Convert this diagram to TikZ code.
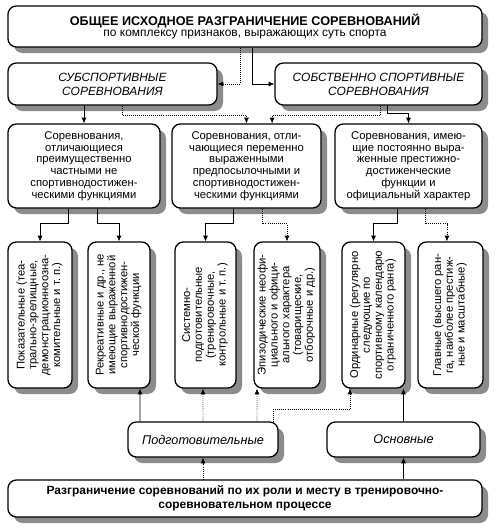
\documentclass[tikz,border=0pt]{standalone}
\usepackage{fontspec}
\setmainfont{Liberation Sans}
\usepackage{graphicx}
\usetikzlibrary{arrows.meta,positioning,shadows}

\tikzset{
  box/.style={draw, line width=0.9pt, rounded corners=6pt, fill=white, align=center, inner sep=2pt,
    drop shadow={shadow xshift=0.15cm, shadow yshift=-0.15cm, fill=black!45, opacity=1},
    font=\fontsize{8}{8.4}\selectfont},
  itbox/.style={box, font=\fontsize{8.5}{10}\selectfont\itshape},
  arr/.style={-{Latex[length=4pt,width=3.5pt]}, line width=0.45pt},
  dotarr/.style={arr, densely dotted}
}

\begin{document}
\begin{tikzpicture}[x=0.025cm, y=-0.025cm]
  \useasboundingbox (0,0) rectangle (500,530);

  % Top box
  \node[box, minimum width=11.85cm, minimum height=1.025cm] (top) at (245,26.5)
    {{\fontsize{9}{10}\selectfont\bfseries ОБЩЕЕ ИСХОДНОЕ РАЗГРАНИЧЕНИЕ СОРЕВНОВАНИЙ}\\
     {\fontsize{8.5}{10}\selectfont по комплексу признаков, выражающих суть спорта}};

  % Two kinds of competitions
  \node[itbox, minimum width=5.225cm, minimum height=1.05cm] (sub) at (112.5,84)
    {СУБСПОРТИВНЫЕ\\СОРЕВНОВАНИЯ};
  \node[itbox, minimum width=5.175cm, minimum height=1.05cm] (own) at (378.5,84)
    {СОБСТВЕННО СПОРТИВНЫЕ\\СОРЕВНОВАНИЯ};

  % Three groups
  \node[box, minimum width=3.8cm, minimum height=2.1cm] (grp1) at (84,166)
    {Соревнования,\\отличающиеся\\преимущественно\\частными не\\спортивнодостижен-\\ческими функциями};
  \node[box, minimum width=3.725cm, minimum height=2.1cm] (grp2) at (246.5,166)
    {Соревнования, отли-\\чающиеся переменно\\выраженными\\предпосылочными и\\спортивнодостижен-\\ческими функциями};
  \node[box, minimum width=3.675cm, minimum height=2.1cm] (grp3) at (408.5,166)
    {Соревнования, имею-\\щие постоянно выра-\\женные престижно-\\достиженческие\\функции и\\официальный характер};

  % Six kinds (vertical text)
  \foreach \n/\x/\w/\txt in {
    v1/40/1.6/{Показательные (теа-\\трально-зрелищные,\\демонстрационноозна-\\комительные и т.~п.)},
    v2/119/1.55/{Рекреативные и др., не\\имеющие выраженной\\спортивнодостижен-\\ческой функции},
    v3/205.5/1.525/{Системно-\\подготовительные\\(тренировочные,\\контрольные и т.~п.)},
    v4/287/1.65/{Эпизодические неофи-\\циального и офици-\\ального характера\\(товарищеские,\\отборочные и др.)},
    v5/373.5/1.575/{Ординарные (регулярно\\следующие по\\спортивному календарю\\ограниченного ранга)},
    v6/450.5/1.625/{Главные (высшего ран-\\га, наиболее престиж-\\ные и масштабные)}}
    \node[box, minimum width=\w cm, minimum height=3.65cm] (\n) at (\x,315)
      {\rotatebox{90}{\begin{tabular}{@{}c@{}}\txt\end{tabular}}};

  % Role in the training process
  \node[itbox, font=\fontsize{9}{10}\selectfont\itshape, minimum width=3.75cm, minimum height=0.875cm] (prep) at (203,439.5)
    {Подготовительные};
  \node[itbox, font=\fontsize{9}{10}\selectfont\itshape, minimum width=3.825cm, minimum height=0.875cm] (main) at (403.5,439.5)
    {Основные};
  \node[box, font=\fontsize{8.5}{10}\selectfont\bfseries, minimum width=11.85cm, minimum height=0.925cm] (bot) at (245,498.5)
    {Разграничение соревнований по их роли и месту в тренировочно-\\соревновательном процессе};

  % Top connectors
  \draw[dotarr] ([xshift=-0.125cm]top.south) |- (sub.east);
  \draw[arr] ([xshift=0.175cm]top.south) |- (own.west);

  % Kinds to groups
  \draw[arr] (sub.south -| grp1.north) -- (grp1.north);
  \draw[dotarr] ([xshift=0.25cm]sub.south) -- ++(0,10) -| (grp2.north);
  \draw[dotarr] ([xshift=0.04cm]own.south) -- ++(0,10) -| ([xshift=0.64cm]grp2.north);
  \draw[arr] ([xshift=0.225cm]own.south) -- ++(0,8) -| (grp3.north);

  % Groups to six kinds
  \draw[arr] ([xshift=-0.4cm]grp1.south) -- ++(0,15) -| (v1.north);
  \draw[arr] ([xshift=0.325cm]grp1.south) -- ++(0,15) -| (v2.north);
  \draw[arr] ([xshift=-0.34cm]grp2.south) -- ++(0,15) -| (v3.north);
  \draw[dotarr] ([xshift=0.39cm]grp2.south) -- ++(0,15) -| (v4.north);
  \draw[arr] ([xshift=-0.29cm]grp3.south) -- ++(0,15) -| (v5.north);
  \draw[dotarr] ([xshift=0.41cm]grp3.south) -- ++(0,15) -| ([xshift=-0.09cm]v6.north);

  % Lower boxes up to six kinds
  \draw[arr] ([xshift=-1.575cm]prep.north) -- ([xshift=0.525cm]v2.south);
  \draw[dotarr] (prep.north) -- ([xshift=-0.0625cm]v3.south);
  \draw[dotarr] ([xshift=1.35cm]prep.north) -- ([xshift=-0.75cm]v4.south);
  \draw[dotarr] ([xshift=1.75cm]prep.north) -- ++(0,-12) -| ([xshift=-0.5875cm]v5.south);
  \draw[arr] (main.north) -- (main.north |- v5.south);

  % Bottom box up
  \draw[dotarr] (bot.north -| prep.south) -- (prep.south);
  \draw[arr] (bot.north -| main.south) -- (main.south);
\end{tikzpicture}
\end{document}
